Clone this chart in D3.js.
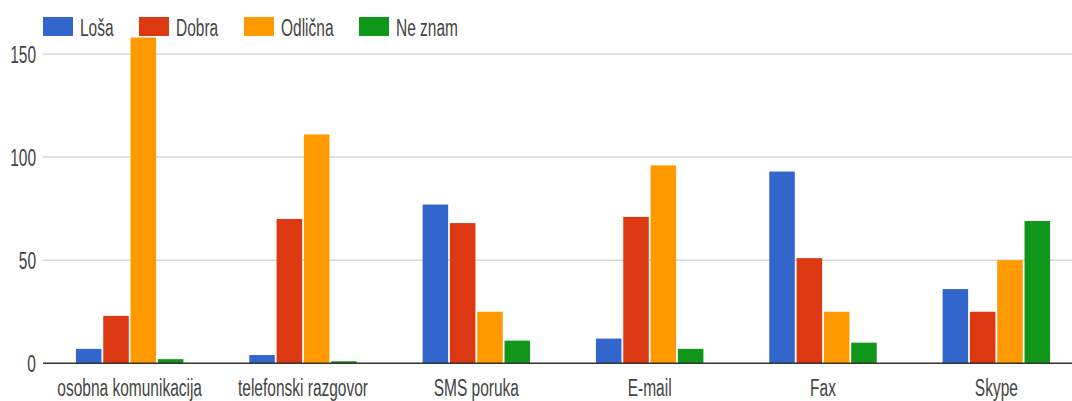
<!DOCTYPE html>
<html>
<head>
<meta charset="utf-8">
<script src="https://d3js.org/d3.v7.min.js"></script>
<style>
  html, body { margin: 0; padding: 0; background: #fff; }
  svg text { font-family: "Liberation Sans", Arial, sans-serif; fill: #444; }
</style>
</head>
<body>
<div id="chart"></div>
<script>

var categories = ["osobna komunikacija", "telefonski razgovor", "SMS poruka", "E-mail", "Fax", "Skype"];
var seriesNames = ["Loša", "Dobra", "Odlična", "Ne znam"];
var losa    = [7, 4, 77, 12, 93, 36];
var dobra   = [23, 70, 68, 71, 51, 25];
var odlicna = [158, 111, 25, 96, 25, 50];
var neZnam  = [2, 1, 11, 7, 10, 69];
var yTicks  = [0, 50, 100, 150];
var colors  = ["#3366cc", "#dc3912", "#ff9900", "#109618"];

var seriesValues = [losa, dobra, odlicna, neZnam];

var width = 1072, height = 401;
var plotLeft = 43, plotRight = 1083, plotTop = 54, plotBottom = 363.3;
var stretch = 1.55;   // text in the picture is tall and narrow

var svg = d3.select("#chart").append("svg")
    .attr("width", width)
    .attr("height", height);

var x0 = d3.scaleBand().domain(categories).range([plotLeft, plotRight])
    .paddingInner(0.38).paddingOuter(0.19);
var x1 = d3.scaleBand().domain(seriesNames).range([0, x0.bandwidth()])
    .paddingInner(0.065);
var y = d3.scaleLinear().domain([0, 150]).range([plotBottom, plotTop]);

// gridlines
svg.append("g").selectAll("line").data(yTicks.filter(function(d) { return d > 0; }))
    .enter().append("line")
    .attr("x1", plotLeft).attr("x2", width)
    .attr("y1", function(d) { return y(d); })
    .attr("y2", function(d) { return y(d); })
    .attr("stroke", "#d6d6d6")
    .attr("stroke-width", 1.5);

// y tick labels
svg.append("g").selectAll("text").data(yTicks).enter().append("text")
    .attr("text-anchor", "end")
    .attr("font-size", 15.5)
    .attr("transform", function(d) { return "translate(36," + (y(d) + 8.5) + ") scale(1," + stretch + ")"; })
    .text(function(d) { return d; });

// bars
var groups = svg.append("g").selectAll("g").data(categories).enter().append("g")
    .attr("transform", function(d) { return "translate(" + x0(d) + ",0)"; });

groups.selectAll("rect")
    .data(function(c, i) {
        return seriesNames.map(function(s, j) { return {series: s, value: seriesValues[j][i], idx: j}; });
    })
    .enter().append("rect")
    .attr("x", function(d) { return x1(d.series); })
    .attr("y", function(d) { return y(d.value); })
    .attr("width", x1.bandwidth())
    .attr("height", function(d) { return plotBottom - y(d.value); })
    .attr("fill", function(d) { return colors[d.idx]; });

// baseline
svg.append("line")
    .attr("x1", plotLeft).attr("x2", width)
    .attr("y1", y(0)).attr("y2", y(0))
    .attr("stroke", "#333")
    .attr("stroke-width", 1.5);

// category labels
svg.append("g").selectAll("text").data(categories).enter().append("text")
    .attr("text-anchor", "middle")
    .attr("font-size", 15.5)
    .attr("transform", function(d) { return "translate(" + (x0(d) + x0.bandwidth() / 2) + ",396) scale(1," + stretch + ")"; })
    .text(function(d) { return d; });

// legend
var legendX = [43, 139, 244, 359];
var legend = svg.append("g").selectAll("g").data(seriesNames).enter().append("g")
    .attr("transform", function(d, i) { return "translate(" + legendX[i] + ",0)"; });

legend.append("rect")
    .attr("x", 0).attr("y", 17)
    .attr("width", 30).attr("height", 19)
    .attr("fill", function(d, i) { return colors[i]; });

legend.append("text")
    .attr("font-size", 15.5)
    .attr("transform", "translate(37,36) scale(1," + stretch + ")")
    .text(function(d) { return d; });

</script>
</body>
</html>
